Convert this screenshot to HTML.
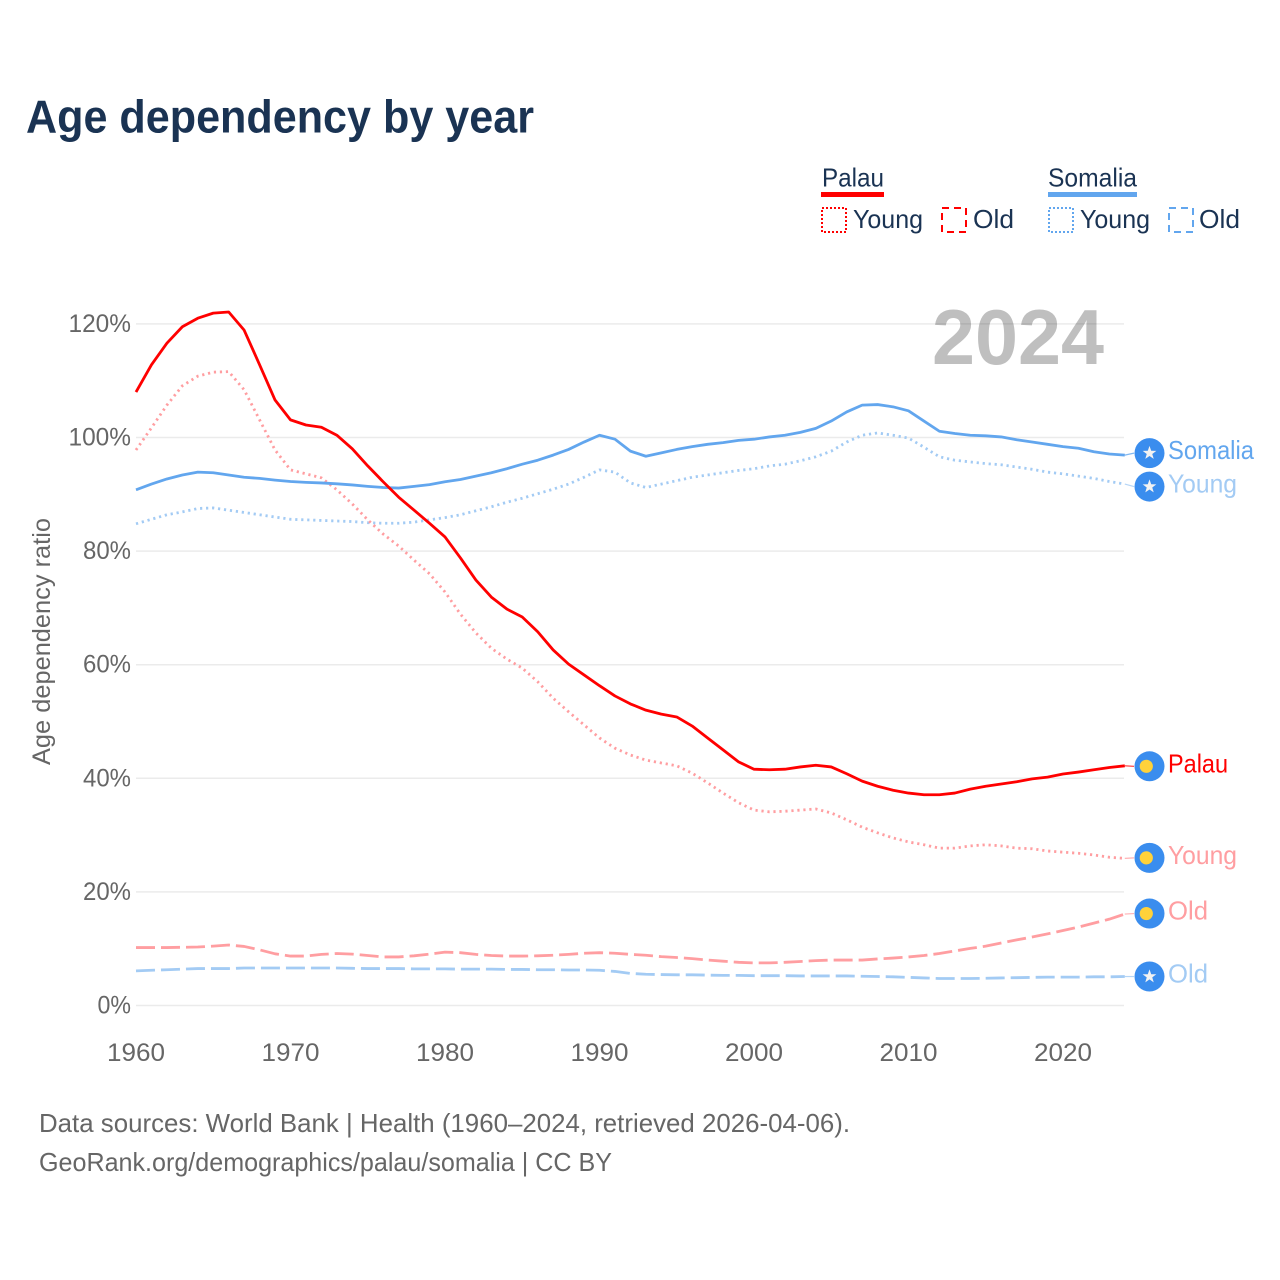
<!DOCTYPE html>
<html lang="en">
<head>
<meta charset="utf-8">
<title>Age dependency by year</title>
<style>
html,body{margin:0;padding:0;background:#fff;}
svg{display:block;font-family:"Liberation Sans",sans-serif;}
</style>
</head>
<body>
<svg id="chart" xmlns="http://www.w3.org/2000/svg" width="1280" height="1280" viewBox="0 0 1280 1280">
  <rect x="0" y="0" width="1280" height="1280" fill="#fff"/>
  <text x="26" y="132.5" font-size="46" font-weight="700" fill="#1a3353" textLength="508" lengthAdjust="spacingAndGlyphs">Age dependency by year</text>

  <g font-size="26" fill="#1a3353">
    <g>
      <text x="822" y="186.5" textLength="62" lengthAdjust="spacingAndGlyphs">Palau</text>
      <rect x="821" y="192" width="63" height="5" fill="#ff0000"/>
      <rect x="822" y="208" width="24" height="24" fill="none" stroke="#ff0000" stroke-width="2" stroke-dasharray="2 2"/>
      <text x="853" y="228" textLength="70" lengthAdjust="spacingAndGlyphs">Young</text>
      <rect x="942" y="208" width="24" height="24" fill="none" stroke="#ff0000" stroke-width="2" stroke-dasharray="7 5"/>
      <text x="973" y="228" textLength="41" lengthAdjust="spacingAndGlyphs">Old</text>
    </g>
    <g>
      <text x="1048" y="186.5" textLength="89" lengthAdjust="spacingAndGlyphs">Somalia</text>
      <rect x="1048" y="192" width="89" height="5" fill="#62a6ee"/>
      <rect x="1049" y="208" width="24" height="24" fill="none" stroke="#62a6ee" stroke-width="2" stroke-dasharray="2 2"/>
      <text x="1080" y="228" textLength="70" lengthAdjust="spacingAndGlyphs">Young</text>
      <rect x="1169" y="208" width="24" height="24" fill="none" stroke="#62a6ee" stroke-width="2" stroke-dasharray="7 5"/>
      <text x="1199" y="228" textLength="41" lengthAdjust="spacingAndGlyphs">Old</text>
    </g>
  </g>

  <text x="932" y="364" font-size="78" font-weight="700" fill="#bfbfbf" textLength="172" lengthAdjust="spacingAndGlyphs">2024</text>
  <g id="grid"></g>
  <g id="yticks"></g>
  <g id="xticks"></g>
  <text transform="translate(50 765) rotate(-90)" font-size="25" fill="#666" textLength="247" lengthAdjust="spacingAndGlyphs">Age dependency ratio</text>
  <g id="series"></g>
  <g id="endlabels"></g>

  <text x="39" y="1132" font-size="26" fill="#666" textLength="811" lengthAdjust="spacingAndGlyphs">Data sources: World Bank | Health (1960–2024, retrieved 2026-04-06).</text>
  <text x="39" y="1171" font-size="26" fill="#666" textLength="573" lengthAdjust="spacingAndGlyphs">GeoRank.org/demographics/palau/somalia | CC BY</text>
</svg>
<script>
const firstYear = 1960;
const xTickYears = [1960, 1970, 1980, 1990, 2000, 2010, 2020];
const yTickValues = [0, 20, 40, 60, 80, 100, 120];

const palauTotal = [108.0,112.8,116.6,119.5,121.0,121.9,122.1,118.9,112.8,106.6,103.1,102.2,101.8,100.4,98.0,95.0,92.2,89.5,87.2,84.9,82.5,78.8,74.9,71.9,69.8,68.4,65.8,62.6,60.1,58.2,56.3,54.5,53.1,52.0,51.3,50.8,49.2,47.1,45.0,42.9,41.6,41.5,41.6,42.0,42.3,42.0,40.8,39.5,38.6,37.9,37.4,37.1,37.1,37.4,38.1,38.6,39.0,39.4,39.9,40.2,40.75,41.1,41.5,41.9,42.2];
const palauYoung = [97.8,101.7,105.7,109.1,110.8,111.5,111.6,108.4,103.1,97.8,94.3,93.6,92.9,90.8,88.3,85.5,83.0,80.9,78.4,76.0,72.8,68.9,65.6,62.9,61.0,59.4,57.0,54.1,51.7,49.4,47.1,45.3,44.1,43.2,42.7,42.2,40.9,39.2,37.4,35.7,34.4,34.1,34.2,34.4,34.6,33.9,32.7,31.4,30.4,29.5,28.8,28.3,27.7,27.7,28.1,28.3,28.1,27.7,27.6,27.2,27.0,26.8,26.5,26.1,25.9];
const palauOld = [10.2,10.2,10.2,10.25,10.3,10.45,10.65,10.4,9.8,9.1,8.7,8.7,9.0,9.15,9.05,8.8,8.55,8.55,8.75,9.05,9.4,9.3,9.0,8.8,8.7,8.7,8.75,8.85,9.0,9.2,9.3,9.2,9.0,8.85,8.6,8.45,8.25,8.0,7.8,7.6,7.5,7.5,7.6,7.75,7.9,8.0,8.0,8.0,8.2,8.35,8.55,8.8,9.15,9.6,10.05,10.45,11.0,11.55,12.05,12.6,13.2,13.8,14.5,15.2,16.1];
const somaliaTotal = [90.8,91.8,92.7,93.4,93.9,93.8,93.4,93.0,92.8,92.5,92.25,92.1,92.0,91.85,91.65,91.4,91.2,91.1,91.4,91.7,92.2,92.6,93.2,93.8,94.5,95.3,96.0,96.9,97.9,99.2,100.4,99.7,97.6,96.7,97.3,97.9,98.4,98.8,99.1,99.5,99.7,100.1,100.4,100.9,101.6,102.9,104.5,105.7,105.8,105.4,104.7,102.9,101.1,100.7,100.4,100.3,100.1,99.6,99.2,98.8,98.4,98.1,97.5,97.1,96.9];
const somaliaYoung = [84.8,85.6,86.4,86.9,87.5,87.6,87.2,86.8,86.4,86.0,85.6,85.5,85.4,85.3,85.2,85.0,84.9,84.9,85.1,85.5,85.9,86.4,87.1,87.8,88.6,89.3,90.1,90.9,91.8,93.0,94.3,93.9,92.0,91.2,91.8,92.4,93.0,93.4,93.8,94.2,94.5,95.0,95.3,95.9,96.6,97.6,99.2,100.4,100.8,100.4,99.9,98.3,96.6,96.0,95.7,95.4,95.2,94.8,94.4,93.9,93.6,93.2,92.8,92.25,91.8];
const somaliaOld = [6.1,6.2,6.3,6.4,6.5,6.5,6.5,6.6,6.6,6.6,6.6,6.6,6.6,6.6,6.55,6.5,6.5,6.5,6.45,6.45,6.45,6.4,6.4,6.4,6.35,6.35,6.3,6.3,6.25,6.25,6.2,6.0,5.65,5.5,5.45,5.4,5.4,5.35,5.3,5.3,5.25,5.25,5.25,5.2,5.2,5.2,5.2,5.15,5.1,5.05,4.95,4.85,4.75,4.75,4.75,4.8,4.85,4.9,4.95,5.0,5.0,5.0,5.05,5.05,5.1];

const NS = 'http://www.w3.org/2000/svg';
const xAt = year => 136 + (year - firstYear) * 15.45;
const yAt = value => 1005.5 - value * 5.68;

function make(tag, attrs, parent) {
  const el = document.createElementNS(NS, tag);
  for (const k in attrs) el.setAttribute(k, attrs[k]);
  parent.appendChild(el);
  return el;
}

const grid = document.getElementById('grid');
const yticks = document.getElementById('yticks');
const xticks = document.getElementById('xticks');
const seriesLayer = document.getElementById('series');
const endLayer = document.getElementById('endlabels');

yTickValues.forEach(v => {
  const line = make('line', {x1: 136, x2: 1124, y1: yAt(v), y2: yAt(v), stroke: '#000', 'stroke-opacity': 0.08, 'stroke-width': 1.5}, grid);
  
  
  const s = v + '%';
  const t = make('text', {x: 131, y: yAt(v) + 8, 'text-anchor': 'end', 'font-size': 25, fill: '#666', textLength: String(v).length * 14.5 + 19, lengthAdjust: 'spacingAndGlyphs'}, yticks);
  t.textContent = s;
  
  
});

xTickYears.forEach(yr => {
  const t = make('text', {x: xAt(yr), y: 1061, 'text-anchor': 'middle', 'font-size': 25, fill: '#666', textLength: 58, lengthAdjust: 'spacingAndGlyphs'}, xticks);
  t.textContent = yr;
  
  
});

const RED = '#ff0000', BLUE = '#62a6ee', PALE_RED = '#ff9ea1', PALE_BLUE = '#a3cbf4';
const DOT = '2.2 3.8', DASH = '19 6';
const seriesDefs = [
  {name: 'somalia-old', values: somaliaOld, color: PALE_BLUE, dash: DASH, width: 2.8, label: 'Old', textW: 40, shift: 0, flag: 'star'},
  {name: 'palau-old', values: palauOld, color: PALE_RED, dash: DASH, width: 2.8, label: 'Old', textW: 40, shift: -0.5, flag: 'dot'},
  {name: 'somalia-young', values: somaliaYoung, color: PALE_BLUE, dash: DOT, width: 2.8, label: 'Young', textW: 69, shift: 2.5, flag: 'star'},
  {name: 'palau-young', values: palauYoung, color: PALE_RED, dash: DOT, width: 2.8, label: 'Young', textW: 69, shift: -0.5, flag: 'dot'},
  {name: 'somalia-total', values: somaliaTotal, color: BLUE, dash: 'none', width: 2.8, label: 'Somalia', textW: 86, shift: -2, flag: 'star'},
  {name: 'palau-total', values: palauTotal, color: RED, dash: 'none', width: 2.8, label: 'Palau', textW: 60, shift: 0.5, flag: 'dot'}
];

function starPoints(cx, cy, R, r) {
  const pts = [];
  for (let i = 0; i < 10; i++) {
    const a = -Math.PI / 2 + i * Math.PI / 5;
    const rad = i % 2 ? r : R;
    pts.push((cx + rad * Math.cos(a)).toFixed(2) + ',' + (cy + rad * Math.sin(a)).toFixed(2));
  }
  return pts.join(' ');
}

seriesDefs.forEach(s => {
  const pts = s.values.map((v, i) => xAt(firstYear + i).toFixed(2) + ',' + yAt(v).toFixed(2)).join(' ');
  const line = make('polyline', {points: pts, fill: 'none', stroke: s.color, 'stroke-width': s.width, 'stroke-linejoin': 'round', 'stroke-dasharray': s.dash}, seriesLayer);
  
  

  const last = s.values[s.values.length - 1];
  const endX = xAt(firstYear + s.values.length - 1);
  const endY = yAt(last);
  const labelY = endY + s.shift;

  const conn = make('line', {x1: endX, y1: endY, x2: 1134, y2: labelY, stroke: s.color, 'stroke-width': 1.2, 'stroke-opacity': 0.8}, endLayer);
  
  

  const badge = make('circle', {cx: 1149.5, cy: labelY, r: 15, fill: '#3a8dee'}, endLayer);
  
  

  if (s.flag === 'star') {
    const star = make('polygon', {points: starPoints(1149.5, labelY, 7.2, 2.9), fill: '#f2f2f2'}, endLayer);
    
    
  } else {
    const sun = make('circle', {cx: 1146.3, cy: labelY, r: 6.6, fill: '#ffd23a'}, endLayer);
    
    
  }

  const txt = make('text', {x: 1168, y: labelY + 6, 'font-size': 26, fill: s.color, textLength: s.textW, lengthAdjust: 'spacingAndGlyphs'}, endLayer);
  txt.textContent = s.label;
  
  
});
</script>
</body>
</html>
